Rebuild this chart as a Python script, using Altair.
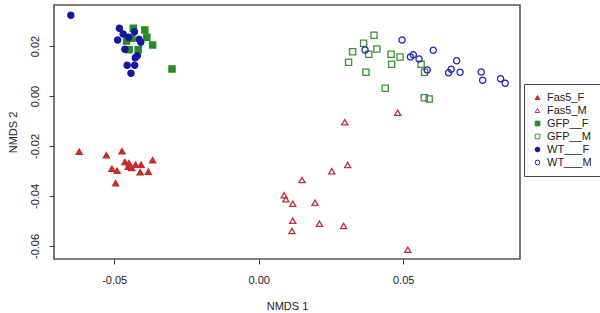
import altair as alt
import pandas as pd

groups = ["Fas5_F", "Fas5_M", "GFP__F", "GFP__M", "WT___F", "WT___M"]
colors_stroke = ["#c62b2b", "#c0303c", "#268a26", "#3c8f3c", "#1414a6", "#2424b0"]
colors_fill = ["#c62b2b", "transparent", "#268a26", "transparent", "#1414a6", "transparent"]
shapes = ["triangle-up", "triangle-up", "square", "square", "circle", "circle"]

fas5_f_x = [-0.0621, -0.0527, -0.0473, -0.0463, -0.0449, -0.0426, -0.0407, -0.0367,
            -0.0508, -0.0490, -0.0439, -0.0410, -0.0382, -0.0495, -0.0451]
fas5_f_y = [-0.0223, -0.0237, -0.0221, -0.0264, -0.0269, -0.0275, -0.0275, -0.0257,
            -0.0291, -0.0299, -0.0288, -0.0305, -0.0303, -0.0349, -0.0283]

fas5_m_x = [0.0481, 0.0298, 0.0308, 0.0253, 0.0150, 0.0088, 0.0094, 0.0118,
            0.0195, 0.0118, 0.0210, 0.0294, 0.0115, 0.0516]
fas5_m_y = [-0.0067, -0.0105, -0.0276, -0.0301, -0.0336, -0.0397, -0.0413, -0.0431,
            -0.0427, -0.0499, -0.0511, -0.0520, -0.0540, -0.0615]

gfp_f_x = [-0.0434, -0.0394, -0.0387, -0.0367, -0.0457, -0.0448, -0.0417, -0.0300, -0.0439]
gfp_f_y = [0.0271, 0.0264, 0.0235, 0.0204, 0.0220, 0.0185, 0.0185, 0.0108, 0.0231]

gfp_m_x = [0.0399, 0.0363, 0.0325, 0.0311, 0.0381, 0.0409, 0.0458, 0.0460,
           0.0489, 0.0371, 0.0438, 0.0562, 0.0574, 0.0573, 0.0590]
gfp_m_y = [0.0243, 0.0211, 0.0177, 0.0135, 0.0167, 0.0188, 0.0167, 0.0127,
           0.0156, 0.0095, 0.0031, 0.0127, 0.0095, -0.0007, -0.0012]

wt_f_x = [-0.0650, -0.0482, -0.0469, -0.0488, -0.0450, -0.0430, -0.0414, -0.0408,
          -0.0463, -0.0420, -0.0427, -0.0455, -0.0429, -0.0442]
wt_f_y = [0.0323, 0.0271, 0.0248, 0.0224, 0.0235, 0.0257, 0.0227, 0.0215,
          0.0187, 0.0161, 0.0153, 0.0123, 0.0123, 0.0091]

wt_m_x = [0.0496, 0.0368, 0.0535, 0.0525, 0.0555, 0.0583, 0.0604, 0.0685,
          0.0666, 0.0657, 0.0697, 0.0770, 0.0775, 0.0837, 0.0853]
wt_m_y = [0.0224, 0.0184, 0.0165, 0.0156, 0.0148, 0.0104, 0.0183, 0.0141,
          0.0107, 0.0093, 0.0095, 0.0096, 0.0063, 0.0069, 0.0051]

series = [(fas5_f_x, fas5_f_y), (fas5_m_x, fas5_m_y), (gfp_f_x, gfp_f_y),
          (gfp_m_x, gfp_m_y), (wt_f_x, wt_f_y), (wt_m_x, wt_m_y)]

rows = []
for g, (xs, ys) in zip(groups, series):
    for x, y in zip(xs, ys):
        rows.append({"group": g, "x": x, "y": y})
df = pd.DataFrame(rows)

x_ticks = [-0.05, 0.0, 0.05]
y_ticks = [-0.06, -0.04, -0.02, 0.0, 0.02]

FONT = "Liberation Sans"

chart = alt.Chart(df).mark_point(size=38, strokeWidth=1.3, opacity=1).encode(
    x=alt.X("x:Q", scale=alt.Scale(domain=[-0.07083, 0.09042], nice=False, zero=False),
            axis=alt.Axis(title="NMDS 1", values=x_ticks,
                          labelExpr="replace(format(datum.value, '.2f'), '\u2212', '-')",
                          grid=False, domain=False, tickSize=5, tickColor="#444",
                          labelPadding=10, titlePadding=15)),
    y=alt.Y("y:Q", scale=alt.Scale(domain=[-0.0652, 0.0364], nice=False, zero=False),
            axis=alt.Axis(title="NMDS 2", values=y_ticks,
                          labelExpr="replace(format(datum.value, '.2f'), '\u2212', '-')",
                          grid=False, domain=False, tickSize=5, tickColor="#444",
                          labelAngle=270, labelAlign="center", labelBaseline="bottom",
                          labelPadding=9, titlePadding=11)),
    stroke=alt.Stroke("group:N", scale=alt.Scale(domain=groups, range=colors_stroke),
                      legend=alt.Legend(title=None, orient="none", legendX=470, legendY=79)),
    fill=alt.Fill("group:N", scale=alt.Scale(domain=groups, range=colors_fill),
                  legend=alt.Legend(title=None, orient="none", legendX=470, legendY=79)),
    shape=alt.Shape("group:N", scale=alt.Scale(domain=groups, range=shapes),
                    legend=alt.Legend(title=None, orient="none", legendX=470, legendY=79)),
).properties(
    width=466, height=254,
    autosize=alt.AutoSizeParams(type="none"),
    padding={"left": 54, "top": 5, "right": 80, "bottom": 54},
).configure_view(
    stroke="#555", strokeWidth=1.6
).configure_axis(
    labelFont=FONT, titleFont=FONT, labelFontSize=11, titleFontSize=11,
    labelColor="#222", titleColor="#222", titleFontWeight="normal"
).configure_legend(
    labelFont=FONT, labelFontSize=11, labelColor="#222",
    strokeColor="#444", padding=8, rowPadding=1, symbolSize=22,
    symbolStrokeWidth=1, fillColor="white"
)

chart.save("out.html", embed_options={"renderer": "svg", "actions": False})
